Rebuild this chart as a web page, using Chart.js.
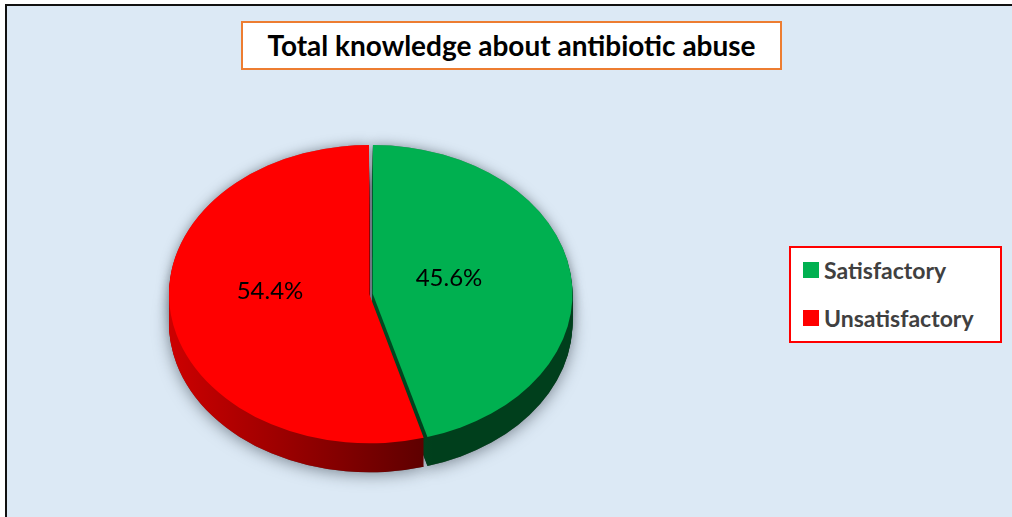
<!DOCTYPE html>
<html>
<head>
<meta charset="utf-8">
<title>Total knowledge about antibiotic abuse</title>
<script src="https://cdn.jsdelivr.net/npm/chart.js@4/dist/chart.umd.min.js"></script>
<style>
  html, body { margin: 0; padding: 0; background: #fff; overflow: hidden; }
  #stage { position: relative; width: 1012px; height: 517px; overflow: hidden; font-family: Lato, "Open Sans", sans-serif; }
  #frame { position: absolute; left: 5px; top: 4px; width: 1020px; height: 530px; background: #dce9f5; border: 2px solid #111; box-sizing: border-box; }
  #trend { position: absolute; left: 0; top: 0; }
  #title-box { position: absolute; left: 241px; top: 21px; width: 541px; height: 49px; box-sizing: border-box; background: #fff; border: 2px solid #ed7d31; color: #000; font-weight: 700; font-size: 28px; line-height: 45px; text-align: center; white-space: nowrap; }
  #legend-box { position: absolute; left: 789px; top: 246px; width: 213px; height: 97px; box-sizing: border-box; background: #fff; border: 2px solid #ff0000; }
  .legend-row { position: absolute; left: 12px; height: 30px; line-height: 30px; color: #404040; font-weight: 700; font-size: 23px; white-space: nowrap; }
  .legend-swatch { position: absolute; left: 0; top: 7px; width: 16px; height: 16px; }
  .legend-text { position: absolute; left: 21px; top: 0; }
</style>
</head>
<body>
<div id="stage">
  <div id="frame"></div>
  <canvas id="pie-chart" width="1012" height="517" style="position:absolute;left:0;top:0;width:1012px;height:517px"></canvas>
  <div id="title-box"></div>
  <div id="legend-box"></div>
</div>
<script>
const chartTitle = "Total knowledge about antibiotic abuse";
const categories = ["Satisfactory", "Unsatisfactory"];
const seriesValues = [45.6, 54.4];
const sliceColors = ["#00b050", "#ff0000"];
const wallStops = [
  ["#004d22", "#003f1c"],
  ["#cc0000", "#5c0000"],
];

const SQUASH = 0.745;
const DEPTH = 29;

document.getElementById("title-box").textContent = chartTitle;

const legendBox = document.getElementById("legend-box");
categories.forEach((name, i) => {
  const row = document.createElement("div");
  row.className = "legend-row";
  row.style.top = i === 0 ? "7px" : "55px";
  const swatch = document.createElement("span");
  swatch.className = "legend-swatch";
  swatch.style.background = sliceColors[i];
  const text = document.createElement("span");
  text.className = "legend-text";
  text.textContent = name;
  row.appendChild(swatch);
  row.appendChild(text);
  legendBox.appendChild(row);
});

function drawArc(arc, ctx, color) {
  const saved = arc.options;
  arc.options = { ...saved, backgroundColor: color };
  arc.draw(ctx);
  arc.options = saved;
}

// squashes the round pie into an ellipse and extrudes the walls under it
const tiltedPie = {
  id: "tiltedPie",
  beforeDatasetsDraw(chart) {
    const { ctx } = chart;
    const arcs = chart.getDatasetMeta(0).data;
    const cy = arcs[0].y;
    ctx.save();
    ctx.translate(0, cy);
    ctx.scale(1, SQUASH);
    ctx.translate(0, -cy);

    ctx.save();
    ctx.translate(0, DEPTH / SQUASH);
    ctx.shadowColor = "rgba(40, 50, 60, 0.55)";
    ctx.shadowBlur = 16;
    ctx.shadowOffsetY = 2;
    arcs.forEach((arc) => drawArc(arc, ctx, "#555"));
    ctx.restore();

    ctx.save();
    ctx.shadowColor = "rgba(40, 50, 60, 0.5)";
    ctx.shadowBlur = 12;
    arcs.forEach((arc) => drawArc(arc, ctx, "#777"));
    ctx.restore();

    arcs.forEach((arc, i) => {
      const left = i === 0 ? arc.x : arc.x - arc.outerRadius;
      const right = i === 0 ? arc.x + arc.outerRadius * 0.3 : arc.x + arc.outerRadius * 0.3;
      const wall = ctx.createLinearGradient(left, 0, right, 0);
      wall.addColorStop(0, wallStops[i][0]);
      wall.addColorStop(1, wallStops[i][1]);
      for (let d = DEPTH; d > 0; d--) {
        ctx.save();
        ctx.translate(0, d / SQUASH);
        drawArc(arc, ctx, wall);
        ctx.restore();
      }
    });
  },
  afterDatasetsDraw(chart) {
    const { ctx } = chart;
    ctx.restore();

    const arcs = chart.getDatasetMeta(0).data;
    const labelShift = [[82, -16], [-97, -3]];
    ctx.save();
    ctx.fillStyle = "#000";
    ctx.font = "24px Lato, sans-serif";
    ctx.textAlign = "center";
    ctx.textBaseline = "middle";
    seriesValues.forEach((value, i) => {
      ctx.fillText(value.toFixed(1) + "%", arcs[i].x + labelShift[i][0] - 4, arcs[i].y + labelShift[i][1]);
    });
    ctx.restore();
  },
};

new Chart(document.getElementById("pie-chart"), {
  type: "pie",
  data: {
    labels: categories,
    datasets: [
      {
        data: seriesValues,
        backgroundColor: sliceColors,
        borderWidth: 0,
        offset: 7,
        hoverOffset: 0,
      },
    ],
  },
  options: {
    responsive: false,
    animation: false,
    events: [],
    layout: { padding: { left: 168, right: 438, top: 92, bottom: 21 } },
    plugins: {
      legend: { display: false },
      title: { display: false },
      tooltip: { enabled: false },
    },
  },
  plugins: [tiltedPie],
});
</script>
</body>
</html>
